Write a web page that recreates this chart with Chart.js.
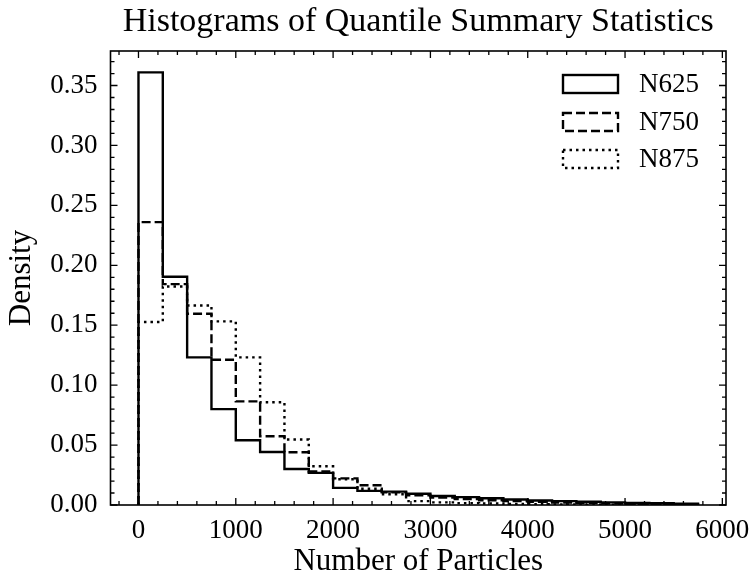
<!DOCTYPE html>
<html>
<head>
<meta charset="utf-8">
<script src="https://cdn.jsdelivr.net/npm/chart.js@4.4.1/dist/chart.umd.min.js"></script>
<style>
  html, body { margin: 0; padding: 0; background: #fff; }
  #wrap { width: 752px; height: 576px; }
</style>
</head>
<body>
<div id="wrap"><canvas id="hist_chart" width="752" height="576"></canvas></div>
<script>
// DATA (bin edges + per-bin fraction for each sample size)
const bin_edges = [0, 250, 500, 750, 1000, 1250, 1500, 1750, 2000, 2250, 2500, 2750,
  3000, 3250, 3500, 3750, 4000, 4250, 4500, 4750, 5000, 5250, 5500, 5750];
const n625 = [0.361, 0.1905, 0.1232, 0.0800, 0.0540, 0.0442, 0.0300, 0.0268, 0.0143, 0.0118, 0.0112, 0.0094,
  0.0075, 0.0066, 0.0056, 0.0046, 0.0038, 0.0032, 0.0027, 0.0022, 0.0018, 0.0014, 0.0010];
const n750 = [0.236, 0.1843, 0.1596, 0.1212, 0.0865, 0.0574, 0.0440, 0.0280, 0.0222, 0.0165, 0.0105, 0.0080,
  0.0062, 0.0050, 0.0040, 0.0032, 0.0026, 0.0020, 0.0016, 0.0012, 0.0009, 0.0006, 0.0004];
const n875 = [0.1527, 0.1823, 0.1665, 0.1532, 0.1232, 0.0857, 0.0546, 0.0323, 0.0215, 0.0135, 0.0090, 0.0032,
  0.0022, 0.0016, 0.0012, 0.0009, 0.0007, 0.0005, 0.0003, 0.0002, 0.0001, 0, 0];
const series_labels = ['N625', 'N750', 'N875'];
const x_ticks = [0, 1000, 2000, 3000, 4000, 5000, 6000];
const y_ticks = [0, 0.05, 0.10, 0.15, 0.20, 0.25, 0.30, 0.35];

const FONT = "'Liberation Serif', 'DejaVu Serif', serif";
const FS = 27;

// turn bin values into step outline points: (0,0) -> edges -> drop to 0
function stepPoints(vals){
  let pts = [{x: bin_edges[0], y: 0}];
  vals.forEach((v, i) => pts.push({x: bin_edges[i], y: v}));
  let last = bin_edges[bin_edges.length-1];
  pts.push({x: last, y: vals[vals.length-1]});
  pts.push({x: last, y: 0});
  return pts;
}

const dashes = [[], [9, 4], [2.5, 4]];

// frame + inward ticks on all four sides, then legend
const framePlugin = {
  id: 'frame',
  afterDatasetsDraw(chart){
    const {ctx, chartArea: a, scales: {x, y}} = chart;
    ctx.save();
    ctx.strokeStyle = '#000';
    ctx.lineWidth = 1.6;
    ctx.strokeRect(a.left, a.top, a.right - a.left, a.bottom - a.top);
    ctx.lineWidth = 1.3;
    ctx.beginPath();
    for(let v = -200; v <= 6000; v += 200){
      let px = x.getPixelForValue(v);
      if(px < a.left || px > a.right) continue;
      let len = (v % 1000 === 0) ? 7 : 4;
      ctx.moveTo(px, a.bottom); ctx.lineTo(px, a.bottom - len);
      ctx.moveTo(px, a.top); ctx.lineTo(px, a.top + len);
    }
    for(let i = 0; i <= 37; i++){
      let py = y.getPixelForValue(i / 100);
      let len = (i % 5 === 0) ? 7 : 4;
      ctx.moveTo(a.left, py); ctx.lineTo(a.left + len, py);
      ctx.moveTo(a.right, py); ctx.lineTo(a.right - len, py);
    }
    ctx.stroke();

    // legend
    const rows = [84, 122, 159];
    ctx.font = FS + 'px ' + FONT;
    ctx.textBaseline = 'middle';
    ctx.fillStyle = '#000';
    chart.data.datasets.forEach((ds, i) => {
      ctx.lineWidth = 2.4;
      ctx.setLineDash(ds.borderDash || []);
      ctx.strokeRect(563, rows[i] - 9, 55, 18);
      ctx.setLineDash([]);
      ctx.fillText(ds.label, 639, rows[i] + 1);
    });
    ctx.restore();
  }
};

const ctx = document.getElementById('hist_chart').getContext('2d');
const my_chart = new Chart(ctx, {
  type: 'line',
  data: {
    datasets: [n625, n750, n875].map((vals, i) => ({
      label: series_labels[i],
      data: stepPoints(vals),
      stepped: 'before',
      borderColor: '#000',
      borderWidth: 2.4,
      borderDash: dashes[i],
      pointRadius: 0,
      fill: false,
      order: 3 - i
    }))
  },
  options: {
    responsive: false,
    animation: false,
    devicePixelRatio: 1,
    layout: { padding: { left: 0, right: 26, top: 0, bottom: 0 } },
    plugins: {
      legend: { display: false },
      tooltip: { enabled: false },
      title: {
        display: true,
        text: 'Histograms of Quantile Summary Statistics',
        color: '#000',
        fullSize: false,
        font: { family: FONT, size: 34, weight: 'normal', lineHeight: 1.1 },
        padding: { top: 3.3, bottom: 10.3 }
      }
    },
    scales: {
      x: {
        type: 'linear',
        min: -287.5,
        max: 6037.5,
        afterBuildTicks: s => { s.ticks = x_ticks.map(v => ({value: v})); },
        afterFit: s => { s.height = 71; s.paddingLeft = 0; s.paddingRight = 0; },
        grid: { display: false, drawTicks: false },
        border: { display: false },
        ticks: {
          color: '#000', padding: 10, maxRotation: 0,
          font: { family: FONT, size: FS },
          callback: v => String(v)
        },
        title: {
          display: true, text: 'Number of Particles', color: '#000',
          font: { family: FONT, size: 31, lineHeight: 1.0 },
          padding: { top: 0, bottom: -1 }
        }
      },
      y: {
        min: 0,
        max: 0.3788,
        afterBuildTicks: s => { s.ticks = y_ticks.map(v => ({value: v})); },
        afterFit: s => { s.width = 110.5; s.paddingTop = 0; s.paddingBottom = 0; },
        grid: { display: false, drawTicks: false },
        border: { display: false },
        ticks: {
          color: '#000', padding: 13,
          font: { family: FONT, size: FS },
          callback: v => v.toFixed(2)
        },
        title: {
          display: true, text: 'Density', color: '#000',
          font: { family: FONT, size: 31, lineHeight: 1.0 },
          padding: { top: 6.5, bottom: 0 }
        }
      }
    }
  },
  plugins: [framePlugin]
});
</script>
</body>
</html>
